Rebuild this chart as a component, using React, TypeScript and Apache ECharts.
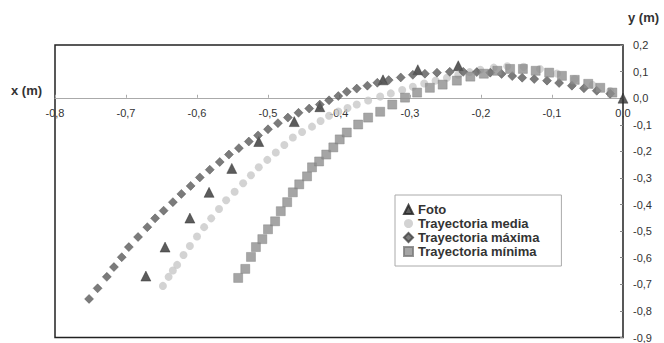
import React, { useEffect, useRef } from "react";
import * as echarts from "echarts";

const seriesNames = ["Foto", "Trayectoria media", "Trayectoria máxima", "Trayectoria mínima"];

const fotoX = [-0.672, -0.645, -0.61, -0.583, -0.551, -0.513, -0.463, -0.427, -0.338, -0.289, -0.232, 0.0];
const fotoY = [-0.669, -0.56, -0.451, -0.354, -0.264, -0.163, -0.088, -0.032, 0.069, 0.107, 0.122, 0.0];

const mediaX = [-0.648, -0.64, -0.634, -0.628, -0.619, -0.61, -0.6, -0.59, -0.58, -0.569, -0.559, -0.547, -0.535, -0.524, -0.513, -0.501, -0.489, -0.477, -0.465, -0.452, -0.438, -0.426, -0.414, -0.401, -0.388, -0.375, -0.359, -0.342, -0.327, -0.311, -0.296, -0.28, -0.264, -0.248, -0.232, -0.216, -0.201, -0.182, -0.163, -0.14, -0.117, -0.093, -0.068, -0.043, -0.018];
const mediaY = [-0.706, -0.672, -0.648, -0.627, -0.59, -0.556, -0.52, -0.485, -0.452, -0.417, -0.384, -0.352, -0.32, -0.29, -0.26, -0.232, -0.204, -0.176, -0.148, -0.127, -0.107, -0.086, -0.066, -0.05, -0.037, -0.024, -0.009, 0.006, 0.018, 0.031, 0.043, 0.055, 0.066, 0.077, 0.088, 0.098, 0.107, 0.115, 0.12, 0.118, 0.11, 0.093, 0.072, 0.05, 0.027];

const maxX = [-0.752, -0.74, -0.727, -0.717, -0.706, -0.696, -0.683, -0.67, -0.659, -0.647, -0.634, -0.622, -0.609, -0.596, -0.582, -0.568, -0.555, -0.541, -0.527, -0.514, -0.5, -0.486, -0.472, -0.457, -0.442, -0.427, -0.414, -0.401, -0.389, -0.375, -0.36, -0.346, -0.33, -0.313, -0.296, -0.279, -0.262, -0.244, -0.225, -0.206, -0.187, -0.171, -0.156, -0.142, -0.125, -0.107, -0.09, -0.072, -0.055, -0.037, -0.018];
const maxY = [-0.755, -0.715, -0.672, -0.635, -0.598, -0.56, -0.522, -0.485, -0.452, -0.423, -0.391, -0.36, -0.33, -0.298, -0.269, -0.24, -0.212, -0.188, -0.163, -0.14, -0.117, -0.094, -0.073, -0.055, -0.039, -0.024, -0.008, 0.008, 0.024, 0.036, 0.047, 0.058, 0.068, 0.078, 0.088, 0.092, 0.096, 0.099, 0.099, 0.098, 0.096, 0.091, 0.083, 0.077, 0.072, 0.066, 0.057, 0.047, 0.037, 0.028, 0.017];

const minX = [-0.542, -0.532, -0.524, -0.517, -0.508, -0.5, -0.49, -0.482, -0.473, -0.465, -0.456, -0.445, -0.438, -0.428, -0.418, -0.408, -0.399, -0.389, -0.373, -0.359, -0.342, -0.325, -0.307, -0.29, -0.272, -0.254, -0.234, -0.215, -0.196, -0.177, -0.159, -0.141, -0.123, -0.104, -0.086, -0.068, -0.049, -0.032, -0.015];
const minY = [-0.676, -0.642, -0.597, -0.56, -0.53, -0.493, -0.463, -0.425, -0.391, -0.354, -0.324, -0.294, -0.26, -0.238, -0.212, -0.185, -0.155, -0.129, -0.099, -0.073, -0.051, -0.024, 0.002, 0.021, 0.039, 0.051, 0.066, 0.081, 0.092, 0.103, 0.11, 0.11, 0.103, 0.096, 0.084, 0.069, 0.054, 0.039, 0.021];

const xTicks = { min: -0.8, max: 0, interval: 0.1 };
const yTicks = { min: -0.9, max: 0.2, interval: 0.1 };

const pair = (xs: number[], ys: number[]) => xs.map((x, i) => [x, ys[i]]);
const fmt = (v: number) => {
  const r = Math.abs(v) < 1e-9 ? 0 : v;
  return r.toFixed(1).replace(".", ",");
};

const FONT = "'Liberation Sans', Arial, sans-serif";
const W = 664;
const H = 343;
const GRID = { left: 55, right: 41, top: 45, bottom: 5 };

export default function App() {
  const ref = useRef<HTMLDivElement>(null);
  useEffect(() => {
    if (!ref.current) return;
    const chart = echarts.init(ref.current, undefined, { renderer: "svg" });
    const plotH = H - GRID.top - GRID.bottom;
    const zeroFromBottom = ((0 - yTicks.min) / (yTicks.max - yTicks.min)) * plotH;
    chart.setOption({
      animation: false,
      backgroundColor: "#ffffff",
      textStyle: { fontFamily: FONT },
      grid: {
        ...GRID,
        show: true,
        borderColor: "#222",
        borderWidth: 1.5,
        backgroundColor: "transparent",
      },
      xAxis: {
        type: "value",
        position: "bottom",
        offset: -zeroFromBottom,
        min: xTicks.min,
        max: xTicks.max,
        interval: xTicks.interval,
        axisLine: { show: true, onZero: false, lineStyle: { color: "#aaa", width: 1 } },
        axisTick: { show: true, inside: true, length: 3, lineStyle: { color: "#aaa" } },
        axisLabel: { formatter: fmt, fontSize: 11, color: "#333", margin: 10, fontFamily: FONT },
        splitLine: { show: false },
      },
      yAxis: {
        type: "value",
        position: "right",
        min: yTicks.min,
        max: yTicks.max,
        interval: yTicks.interval,
        axisLine: { show: false },
        axisTick: { show: true, inside: true, length: 3, lineStyle: { color: "#888" } },
        axisLabel: { formatter: fmt, fontSize: 11, color: "#333", margin: 10, fontFamily: FONT },
        splitLine: { show: false },
      },
      legend: {
        orient: "vertical",
        left: 395,
        top: 195,
        data: seriesNames,
        backgroundColor: "#fff",
        borderColor: "#aaa",
        borderWidth: 1,
        padding: [8, 22, 8, 8],
        itemGap: 1,
        itemWidth: 9,
        itemHeight: 9,
        textStyle: { fontSize: 13, lineHeight: 12, fontWeight: "bold", color: "#333", fontFamily: FONT },
      },
      graphic: [
        { type: "text", left: 11, top: 84, style: { text: "x (m)", fontSize: 13, fontWeight: "bold", fill: "#333", fontFamily: FONT } },
        { type: "text", left: 628, top: 11, style: { text: "y (m)", fontSize: 13, fontWeight: "bold", fill: "#333", fontFamily: FONT } },
      ],
      series: [
        {
          name: seriesNames[0],
          type: "scatter",
          symbol: "triangle",
          symbolSize: 10,
          clip: false,
          itemStyle: { color: "#333", borderColor: "#222", borderWidth: 0.5 },
          data: pair(fotoX, fotoY),
          z: 2,
        },
        {
          name: seriesNames[1],
          type: "scatter",
          symbol: "circle",
          symbolSize: 8,
          itemStyle: { color: "#c8c8c8" },
          data: pair(mediaX, mediaY),
          z: 3,
        },
        {
          name: seriesNames[2],
          type: "scatter",
          symbol: "diamond",
          symbolSize: 9,
          itemStyle: { color: "#5a5a5a", borderColor: "#444", borderWidth: 0.5 },
          data: pair(maxX, maxY),
          z: 4,
        },
        {
          name: seriesNames[3],
          type: "scatter",
          symbol: "rect",
          symbolSize: 9,
          itemStyle: { color: "#8e8e8e", borderColor: "#7a7a7a", borderWidth: 0.5 },
          data: pair(minX, minY),
          z: 5,
        },
      ],
    });
    return () => chart.dispose();
  }, []);
  return <div ref={ref} style={{ position: "fixed", left: 0, top: 0, width: W, height: H }} />;
}
